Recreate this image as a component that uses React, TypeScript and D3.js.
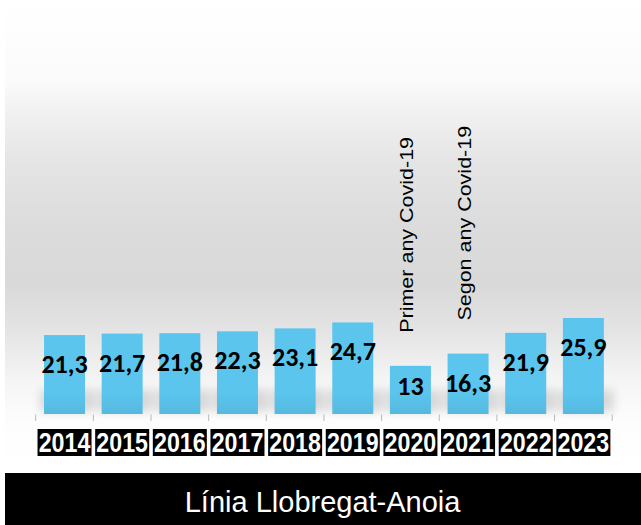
import React from "react";
import * as d3 from "d3";

const years = ["2014", "2015", "2016", "2017", "2018", "2019", "2020", "2021", "2022", "2023"];
const values = [21.3, 21.7, 21.8, 22.3, 23.1, 24.7, 13, 16.3, 21.9, 25.9];
const annotationYears = ["2020", "2021"];
const annotationTexts = ["Primer any Covid-19", "Segon any Covid-19"];
const title = "Línia Llobregat-Anoia";

const W = 641;
const H = 525;

export default function App() {
  const x = d3.scaleBand<string>().domain(years).range([35.7, 612.2]).paddingInner(0.289).paddingOuter(0.1445);
  const y = d3.scaleLinear().domain([0, 30]).range([414, 302.8]);
  const step = x.step();
  const bw = x.bandwidth();
  const gap = step - bw;
  const fmt = (v: number) => String(v).replace(".", ",");
  const y0 = y(0);

  return (
    <div style={{ position: "absolute", left: 0, top: 0 }}>
      <svg width={W} height={H} style={{ display: "block" }}>
        <defs>
          <linearGradient id="bg" x1="0" y1="0" x2="0" y2="1">
            <stop offset="0" stopColor="#ffffff" />
            <stop offset="0.17" stopColor="#fbfbfb" />
            <stop offset="0.22" stopColor="#f3f3f3" />
            <stop offset="0.33" stopColor="#e6e6e6" />
            <stop offset="0.47" stopColor="#dcdcdc" />
            <stop offset="0.6" stopColor="#d9d9d9" />
            <stop offset="0.7" stopColor="#e4e4e4" />
            <stop offset="0.8" stopColor="#f4f4f4" />
            <stop offset="0.89" stopColor="#fdfdfd" />
            <stop offset="1" stopColor="#ffffff" />
          </linearGradient>
          <filter id="blur" x="-50%" y="-50%" width="200%" height="200%">
            <feGaussianBlur stdDeviation="5" />
          </filter>
          <linearGradient id="barShade" x1="0" y1="0" x2="0" y2="1">
            <stop offset="0" stopColor="#000" stopOpacity="0" />
            <stop offset="1" stopColor="#000" stopOpacity="0.06" />
          </linearGradient>
        </defs>
        <rect x={5} y={0} width={W - 5} height={473} fill="url(#bg)" />

        {years.map((d) => (
          <rect
            key={"s" + d}
            x={(x(d) as number) - 4}
            y={y0 - 24}
            width={bw + 14}
            height={22}
            fill="#000"
            opacity={0.13}
            filter="url(#blur)"
          />
        ))}

        {years.map((d, i) => (
          <g key={"b" + d}>
            <rect x={x(d)} y={y(values[i])} width={bw} height={y0 - y(values[i])} fill="#5bc5ed" />
            <rect x={x(d)} y={y0 - 22} width={bw} height={22} fill="url(#barShade)" />
          </g>
        ))}

        {years.concat(["end"]).map((d, i) => {
          const tx = i < years.length ? (x(d) as number) - gap / 2 : (x(years[years.length - 1]) as number) + bw + gap / 2;
          return <line key={"t" + i} x1={tx} x2={tx} y1={y0 + 0.5} y2={y0 + 7} stroke="#b8b8b8" strokeWidth={1} />;
        })}

        {years.map((d, i) => (
          <text
            key={"v" + d}
            x={(x(d) as number) + bw / 2}
            y={Math.min(y(values[i]) + 38, y0 - 19)}
            textAnchor="middle"
            fontFamily="Carlito, Calibri, 'Liberation Sans', Arial, sans-serif"
            fontWeight="bold"
            fontSize={26}
            fill="#000"
          >
            {fmt(values[i])}
          </text>
        ))}

        {years.map((d) => {
          const cx = (x(d) as number) + bw / 2;
          return (
            <g key={"y" + d}>
              <rect x={cx - 27} y={429} width={54} height={27} fill="#000" />
              <text
                transform={`translate(${cx},452.3) scale(0.86,1)`}
                textAnchor="middle"
                fontFamily="'Liberation Sans', Arial, sans-serif"
                fontWeight="bold"
                fontSize={27}
                fill="#fff"
              >
                {d}
              </text>
            </g>
          );
        })}

        {annotationYears.map((d, k) => {
          const i = years.indexOf(d);
          const cx = (x(d) as number) + bw / 2 + 3;
          const ty = y(values[i]) - 33;
          return (
            <text
              key={"a" + d}
              transform={`translate(${cx},${ty}) scale(0.87,1) rotate(-90)`}
              fontFamily="'Liberation Sans', Arial, sans-serif"
              fontSize={21.5}
              fill="#000"
            >
              {annotationTexts[k]}
            </text>
          );
        })}

        <rect x={5} y={473} width={W - 5} height={H - 473} fill="#000" />
        <text
          x={322.6}
          y={512.3}
          textAnchor="middle"
          fontFamily="'Liberation Sans', Arial, sans-serif"
          fontSize={29}
          fill="#fff"
        >
          {title}
        </text>
      </svg>
    </div>
  );
}
